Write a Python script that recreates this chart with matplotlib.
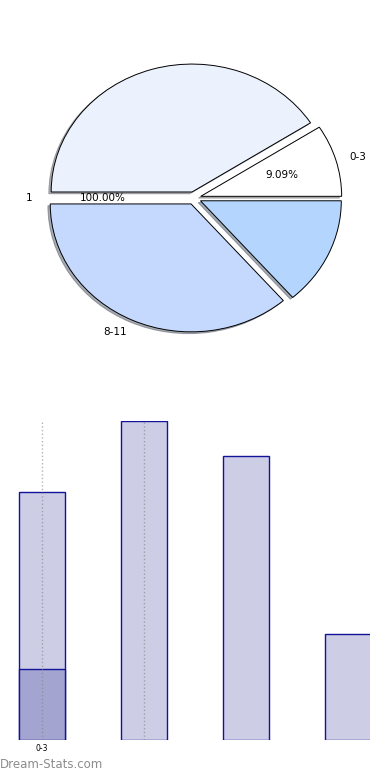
import matplotlib
matplotlib.use("Agg")
import matplotlib.pyplot as plt
from matplotlib.patches import Shadow

# pie data (zero-size slice for "1")
pie_labels = ['0-3', '', '1', '8-11', '']
pie_values = [1.0, 4.5, 0.0, 4.0, 1.5]
pie_pcts = ['9.09%', '', '100.00%', '', '']
pie_colors = ['#ffffff', '#ebf2fe', '#ebf2fe', '#c5d8fe', '#b4d5fe']

# bar data
bar_pos = [0, 1, 2, 3]
bar_values = [7, 9, 8, 3]
bar_sub = [2]
tick_pos = [0, 1]
tick_labels = ['0-3', '']

fig = plt.figure(figsize=(3.9, 7.8), dpi=100)

# pie
ax1 = fig.add_axes([0.046, 0.541, 0.903, 0.41])
pcts = iter(pie_pcts)
wedges, _, _ = ax1.pie(pie_values, labels=pie_labels, colors=pie_colors,
                       explode=[0.05] * len(pie_values),
                       shadow={'ox': -0.012, 'oy': -0.01, 'shade': 0.6},
                       autopct=lambda p: next(pcts), pctdistance=0.6,
                       labeldistance=1.1,
                       wedgeprops=dict(edgecolor='black', linewidth=0.7),
                       textprops=dict(fontsize=7.5, color='black'))
# the empty slice leaves no visible edge
empty = [w for w, v in zip(wedges, pie_values) if v == 0]
for p in ax1.patches:
    if p in empty or (isinstance(p, Shadow) and p.patch in empty):
        p.set_visible(False)
ax1.set_aspect('auto')
ax1.set_xlim(-1.25, 1.25)
ax1.set_ylim(-1.25, 1.25)

# bars
ax2 = fig.add_axes([0.0, 0.0513, 0.949, 0.409])
ax2.bar(bar_pos, bar_values, width=0.45, color='#cdcee6',
        edgecolor='#13139a', linewidth=1.0)
ax2.bar(bar_pos[:1], bar_sub, width=0.45, color='#a3a5d0',
        edgecolor='#13139a', linewidth=1.0)
ax2.set_xlim(-0.41, 3.22)
ax2.set_ylim(0, 9)
ax2.set_xticks(tick_pos)
ax2.set_xticklabels(tick_labels, fontsize=5.5)
ax2.tick_params(axis='x', length=0, pad=3)
ax2.set_yticks([])
ax2.grid(axis='x', color='gray', linestyle=':', linewidth=1, alpha=0.6)
ax2.set_axisbelow(False)
for s in ax2.spines.values():
    s.set_visible(False)

fig.text(0.0, 0.0115, 'Dream-Stats.com', fontsize=8.5, color='#8c8c8c',
         ha='left', va='bottom')

fig.savefig('out.png', dpi=100)
